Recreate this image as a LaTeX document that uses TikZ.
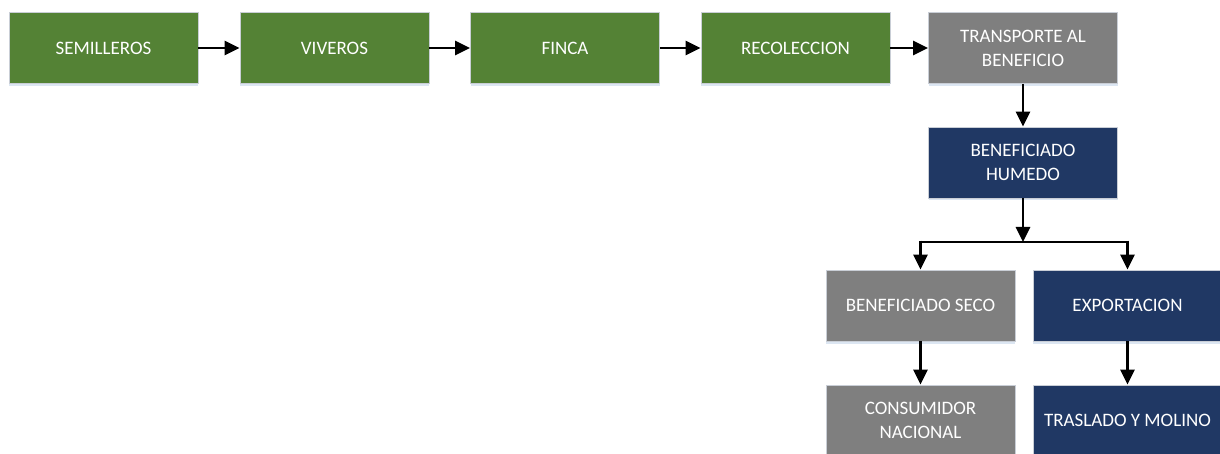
\documentclass[tikz,border=0pt]{standalone}
\usepackage{fontspec}
\setmainfont{Carlito}
\usetikzlibrary{arrows.meta}
\definecolor{leaf}{HTML}{548235}
\definecolor{stone}{HTML}{7F7F7F}
\definecolor{navy}{HTML}{203864}
\definecolor{rim}{HTML}{C9CED6}
\definecolor{haze}{HTML}{DCE6F2}
\begin{document}
\begin{tikzpicture}[x=1pt,y=-1pt,
  box/.style={draw=rim, line width=0.8pt, minimum width=189pt, minimum height=71pt,
    inner sep=0pt, text=white, align=center, font=\fontsize{19}{24}\selectfont,
    preaction={fill=haze, transform canvas={yshift=-2.5pt}}},
  greenbox/.style={box, fill=leaf},
  greybox/.style={box, fill=stone},
  navybox/.style={box, fill=navy},
  flow/.style={line width=2.8pt, -{Triangle[length=15pt,width=14pt]}},
  wire/.style={line width=2.8pt}]
\useasboundingbox (0,0) rectangle (1220,454);
\begin{scope}
\clip (0,0) rectangle (1220,454);
% first row
\node[greenbox] (sem) at (103.5,48) {SEMILLEROS};
\node[greenbox] (viv) at (334.5,48) {VIVEROS};
\node[greenbox] (fin) at (565,48) {FINCA};
\node[greenbox] (rec) at (795.5,48) {RECOLECCION};
\node[greybox] (tra) at (1023,48) {TRANSPORTE AL\\BENEFICIO};
% processing column
\node[navybox] (hum) at (1023,162.5) {BENEFICIADO\\HUMEDO};
\node[greybox] (sec) at (920.5,305.5) {BENEFICIADO SECO};
\node[navybox] (exp) at (1127.5,305.5) {EXPORTACION};
\node[greybox] (con) at (920.5,420.5) {CONSUMIDOR\\NACIONAL};
\node[navybox] (mol) at (1127.5,420.5) {TRASLADO Y MOLINO};
\end{scope}
% connectors
\draw[flow] (sem.east) -- (viv.west);
\draw[flow] (viv.east) -- (fin.west);
\draw[flow] (fin.east) -- (rec.west);
\draw[flow] (rec.east) -- (tra.west);
\draw[flow] (tra.south) -- (hum.north);
\coordinate (split) at (1023,242);
\draw[flow] (hum.south) -- (split);
\draw[wire] (sec.north |- split) -- (exp.north |- split);
\draw[flow] (sec.north |- split) ++(0,-1.4) -- (sec.north);
\draw[flow] (exp.north |- split) ++(0,-1.4) -- (exp.north);
\draw[flow] (sec.south) -- (con.north);
\draw[flow] (exp.south) -- (mol.north);
\end{tikzpicture}
\end{document}
